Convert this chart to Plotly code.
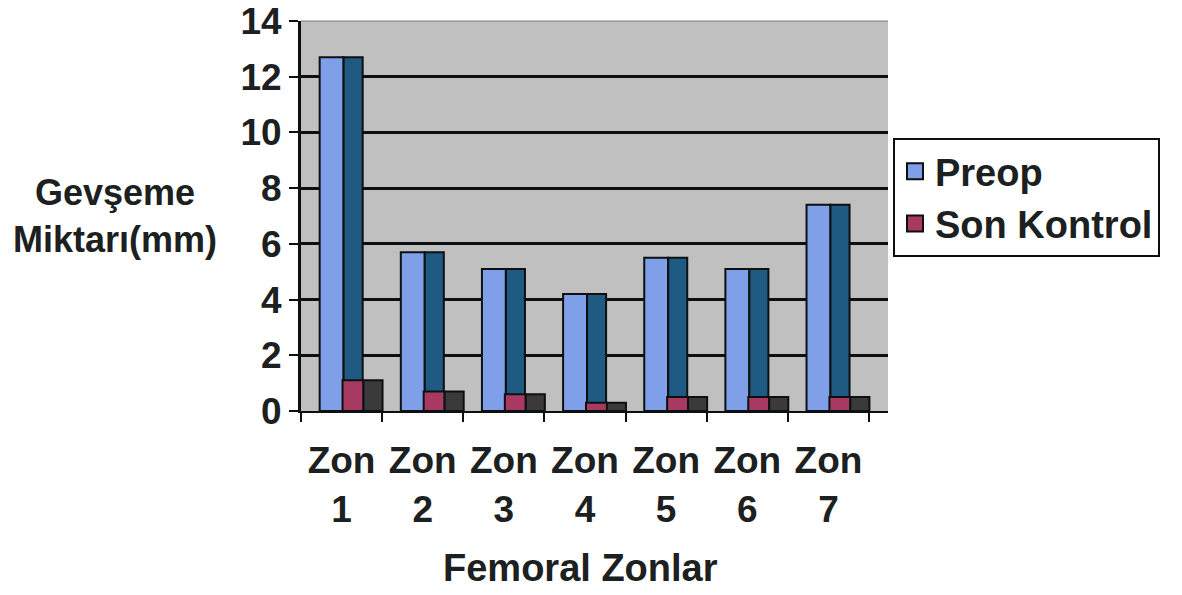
import plotly.graph_objects as go

# Femoral zone loosening (mm): preoperative vs. last follow-up
zones = ["Zon 1", "Zon 2", "Zon 3", "Zon 4", "Zon 5", "Zon 6", "Zon 7"]
preop = [12.7, 5.7, 5.1, 4.2, 5.5, 5.1, 7.4]
son_kontrol = [1.1, 0.7, 0.6, 0.3, 0.5, 0.5, 0.5]
y_ticks = [0, 2, 4, 6, 8, 10, 12, 14]

FONT = "Liberation Sans, Arial, sans-serif"
INK = "#1c2020"
LINE = "#0d1010"
x = list(range(len(zones)))
tick_text = [z.replace(" ", "<br>") for z in zones]

fig = go.Figure()

# Pseudo-3D columns: a light front face plus a darker side face for each series
faces = [
    (preop, "#7f9fe8", -0.27, 0.295),
    (preop, "#1f5a82", 0.025, 0.235),
    (son_kontrol, "#a83a62", 0.012, 0.258),
    (son_kontrol, "#3b3939", 0.27, 0.235),
]
for vals, color, off, w in faces:
    fig.add_trace(go.Bar(
        x=x, y=vals, offset=off, width=w,
        marker=dict(color=color, line=dict(color=LINE, width=2)),
        showlegend=False, hoverinfo="y",
    ))

# Legend entries (placed on the overlay axes that carry the grid and category ticks)
for name, color in [("Preop", "#7f9fe8"), ("Son Kontrol", "#a83a62")]:
    fig.add_trace(go.Scatter(
        x=[None], y=[None], mode="markers", name=name,
        xaxis="x2", yaxis="y2",
        marker=dict(symbol="square", size=20, color=color,
                    line=dict(color=LINE, width=2)),
    ))

x_range = [-0.5, len(zones) - 0.5 + 0.234]

fig.update_layout(
    width=1182, height=595,
    margin=dict(l=301, r=294, t=21, b=184, autoexpand=False),
    paper_bgcolor="white",
    plot_bgcolor="#c0c0c0",
    barmode="overlay",
    font=dict(family=FONT, size=36, color=INK),
    xaxis=dict(
        range=x_range, tickvals=x, ticktext=tick_text,
        ticks="", showgrid=False, zeroline=False, automargin=False,
        showline=True, linecolor=LINE, linewidth=2,
        tickfont=dict(family=FONT, size=37, color=INK, weight="bold"),
        ticklabelstandoff=16,
    ),
    xaxis2=dict(
        overlaying="x", anchor="y", side="bottom", range=x_range,
        tickvals=[i - 0.5 for i in range(len(zones) + 1)],
        ticks="outside", ticklen=10, tickwidth=2, tickcolor=LINE,
        showticklabels=False, showgrid=False, zeroline=False, automargin=False,
    ),
    yaxis=dict(
        range=[0, 14], tickvals=y_ticks,
        ticks="outside", ticklen=9, tickwidth=2, tickcolor=LINE,
        showline=True, linecolor=LINE, linewidth=3,
        showgrid=False, zeroline=False, automargin=False,
        tickfont=dict(family=FONT, size=37, color=INK, weight="bold"),
    ),
    yaxis2=dict(
        overlaying="y", anchor="x", range=[0, 14], tickvals=y_ticks[1:-1],
        showticklabels=False, ticks="", showgrid=True,
        gridcolor=LINE, gridwidth=3, zeroline=False, automargin=False,
    ),
    legend=dict(
        x=1.0085, y=0.70, xanchor="left", yanchor="top",
        bgcolor="white", bordercolor=LINE, borderwidth=2,
        font=dict(family=FONT, size=38, color=INK, weight="bold"),
    ),
    annotations=[
        dict(text="Gevşeme<br>Miktarı(mm)", xref="paper", yref="paper",
             x=-0.317, y=0.5, xanchor="center", yanchor="middle",
             showarrow=False,
             font=dict(family=FONT, size=36, color=INK, weight="bold")),
        dict(text="Femoral Zonlar", xref="paper", yref="paper",
             x=0.477, y=-0.403, xanchor="center", yanchor="middle",
             showarrow=False,
             font=dict(family=FONT, size=38, color=INK, weight="bold")),
    ],
)

# Top edge of the back wall
fig.add_shape(type="line", xref="paper", yref="paper", x0=0, x1=1, y0=1, y1=1,
              line=dict(color="#7a7a7a", width=1))

fig.write_html("out.html")
